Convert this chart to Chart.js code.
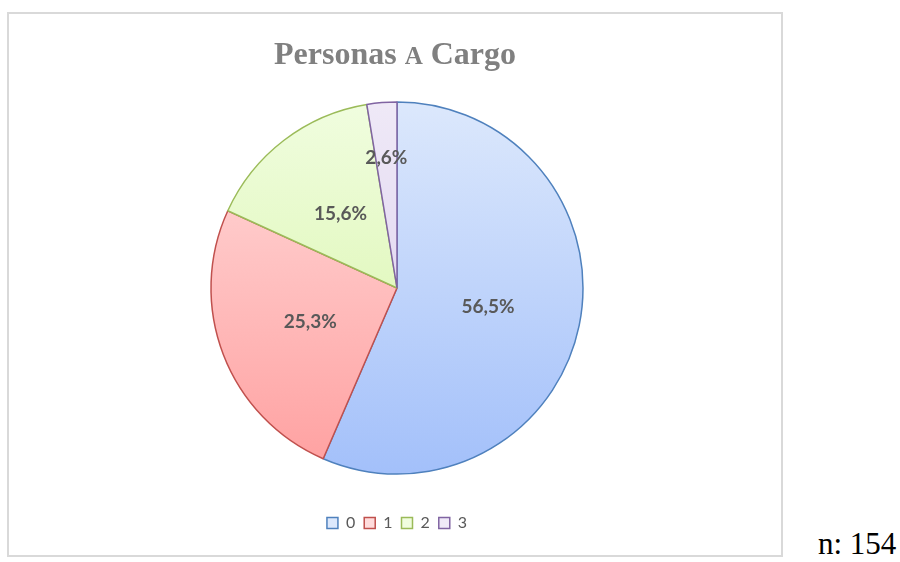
<!DOCTYPE html>
<html>
<head>
<meta charset="utf-8">
<script src="https://cdn.jsdelivr.net/npm/chart.js@4"></script>
<style>
  body { margin: 0; background: #fff; width: 900px; height: 562px; position: relative; overflow: hidden; }
  #box { position: absolute; left: 7px; top: 12px; width: 776px; height: 545px; box-sizing: border-box; border: 2px solid #d9d9d9; }
  #box canvas { display: block; }
  #n { position: absolute; left: 818px; top: 526px; font-family: "Liberation Serif", "Times New Roman", serif; font-size: 31px; line-height: 36px; color: #000; }
</style>
</head>
<body>
<div id="box"><canvas id="pieChart" width="772" height="541"></canvas></div>
<div id="n">n: 154</div>
<script>
// valores (n = 154)
const categorias = ['0', '1', '2', '3'];
const personas = [87, 39, 24, 4];
const etiquetas = ['56,5%', '25,3%', '15,6%', '2,6%'];

const colorArriba = ['#dce8fc', '#ffdcdc', '#f0fddf', '#efe9f7'];
const colorAbajo = ['#a3c0fa', '#ffa0a0', '#d6f4a4', '#d8cbec'];
const colorBorde = ['#4f81bd', '#c0504d', '#9bbb59', '#8064a2'];
const distEtiqueta = [0.5, 0.5, 0.5, 0.7];

function degradado(context) {
  const chart = context.chart;
  const area = chart.chartArea;
  const i = context.dataIndex;
  if (!area) return colorAbajo[i];
  const cy = (area.top + area.bottom) / 2;
  const r = 186;
  const g = chart.ctx.createLinearGradient(0, cy - r, 0, cy + r);
  g.addColorStop(0, colorArriba[i]);
  g.addColorStop(1, colorAbajo[i]);
  return g;
}

const tituloPlugin = {
  id: 'tituloPlugin',
  afterDraw(chart) {
    const ctx = chart.ctx;
    const partes = [
      { t: 'Personas ', f: 'bold 32px "Liberation Serif", serif' },
      { t: 'A', f: 'bold 25px "Liberation Serif", serif' },
      { t: ' Cargo', f: 'bold 32px "Liberation Serif", serif' }
    ];
    ctx.save();
    ctx.fillStyle = '#808080';
    ctx.textBaseline = 'alphabetic';
    ctx.textAlign = 'left';
    let total = 0;
    partes.forEach(p => { ctx.font = p.f; total += ctx.measureText(p.t).width; });
    let x = 386 - total / 2;
    partes.forEach(p => {
      ctx.font = p.f;
      ctx.fillText(p.t, x, 50);
      x += ctx.measureText(p.t).width;
    });
    ctx.restore();
  }
};

const etiquetasPlugin = {
  id: 'etiquetasPlugin',
  afterDatasetsDraw(chart) {
    const ctx = chart.ctx;
    const meta = chart.getDatasetMeta(0);
    ctx.save();
    ctx.font = 'bold 19px Lato, "Open Sans", sans-serif';
    ctx.fillStyle = '#595959';
    ctx.textAlign = 'center';
    ctx.textBaseline = 'middle';
    meta.data.forEach((arc, i) => {
      const p = arc.getProps(['x', 'y', 'startAngle', 'endAngle', 'outerRadius'], true);
      const mid = (p.startAngle + p.endAngle) / 2;
      const r = p.outerRadius * distEtiqueta[i];
      ctx.fillText(etiquetas[i], p.x + Math.cos(mid) * r, p.y + Math.sin(mid) * r);
    });
    ctx.restore();
  }
};

const ctx = document.getElementById('pieChart').getContext('2d');
new Chart(ctx, {
  type: 'pie',
  data: {
    labels: categorias,
    datasets: [{
      data: personas,
      backgroundColor: degradado,
      borderColor: colorBorde,
      borderWidth: 1.5
    }]
  },
  options: {
    responsive: false,
    animation: false,
    radius: 186,
    layout: { padding: { top: 56, bottom: 14, left: 4, right: 0 } },
    plugins: {
      title: { display: false },
      tooltip: { enabled: false },
      legend: {
        position: 'bottom',
        labels: {
          boxWidth: 11,
          boxHeight: 11,
          padding: 9,
          color: '#595959',
          font: { family: 'Lato, "Open Sans", sans-serif', size: 16 },
          generateLabels(chart) {
            return categorias.map((c, i) => ({
              text: c,
              fillStyle: colorArriba[i],
              strokeStyle: colorBorde[i],
              lineWidth: 1.5,
              fontColor: '#595959',
              hidden: false,
              index: i,
              datasetIndex: 0
            }));
          }
        }
      }
    }
  },
  plugins: [tituloPlugin, etiquetasPlugin]
});
</script>
</body>
</html>
